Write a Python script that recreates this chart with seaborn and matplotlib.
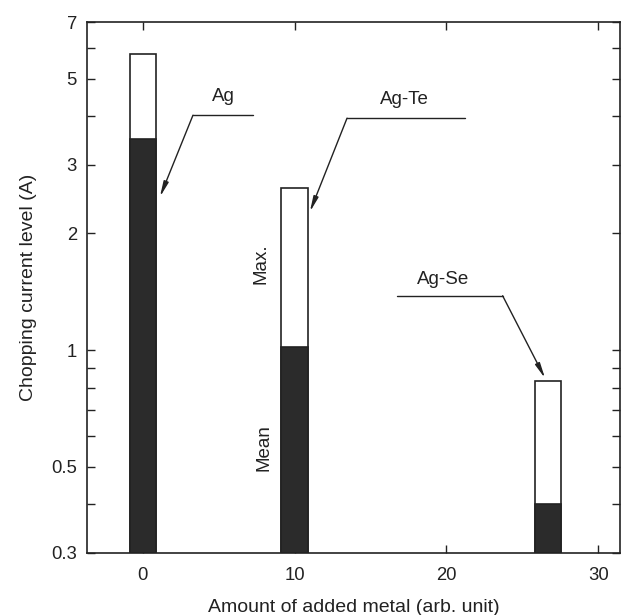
import numpy as np
import pandas as pd
import matplotlib
matplotlib.use("Agg")
import matplotlib.pyplot as plt
from matplotlib.ticker import NullFormatter
import seaborn as sns

# Chopping current per contact material
materials = ["Ag", "Ag-Te", "Ag-Se"]
added_metal = [0, 10, 26.7]          # arb. unit
max_current = [5.8, 2.62, 0.83]      # A
mean_current = [3.5, 1.02, 0.40]     # A

y_major = [0.3, 0.5, 1, 2, 3, 5, 7]
y_major_labels = ["0.3", "0.5", "1", "2", "3", "5", "7"]
y_minor = [0.4, 0.6, 0.7, 0.8, 0.9, 4, 6]
x_major = [0, 10, 20, 30]

sns.set_style("ticks")
plt.rcParams["font.family"] = ["Liberation Sans", "DejaVu Sans"]
plt.rcParams["text.color"] = "#222222"
plt.rcParams["axes.labelcolor"] = "#222222"

df = pd.DataFrame({
    "material": materials,
    "amount": added_metal,
    "max": max_current,
    "mean": mean_current,
})

fig, ax = plt.subplots(figsize=(6.24, 6.15), dpi=100)
fig.subplots_adjust(left=0.139, right=0.994, bottom=0.101, top=0.964)

ink = "#222222"
sns.barplot(data=df, x="amount", y="max", native_scale=True,
            width=0.175, color="white", edgecolor=ink, linewidth=1.2,
            saturation=1, errorbar=None, ax=ax)
sns.barplot(data=df, x="amount", y="mean", native_scale=True,
            width=0.175, color="#2b2b2b", edgecolor=ink, linewidth=1.2,
            saturation=1, errorbar=None, ax=ax)
ax.set_yscale("log", nonpositive="clip")

ax.set_xlim(-3.7, 31.45)
ax.set_ylim(0.3, 7)
ax.set_xticks(x_major)
ax.set_xticklabels([str(v) for v in x_major])
ax.set_yticks(y_major)
ax.set_yticklabels(y_major_labels)
ax.set_yticks(y_minor, minor=True)
ax.yaxis.set_minor_formatter(NullFormatter())
ax.xaxis.set_minor_locator(matplotlib.ticker.NullLocator())

ax.tick_params(axis="both", which="both", direction="in", length=6, width=1.0,
               color=ink, labelcolor=ink, labelsize=13.3,
               top=True, right=True)
ax.tick_params(axis="x", pad=10)
ax.tick_params(axis="y", pad=7)
for s in ax.spines.values():
    s.set_visible(True)
    s.set_linewidth(1.2)
    s.set_color(ink)

ax.set_xlabel("Amount of added metal (arb. unit)", fontsize=14, labelpad=11)
ax.set_ylabel("Chopping current level (A)", fontsize=14, labelpad=10)

# Leader lines with arrows pointing at each bar
line_kw = dict(color=ink, lw=1.0)
arrow_kw = dict(arrowstyle="-|>,head_length=0.9,head_width=0.15", color=ink, lw=1.0,
                shrinkA=0, shrinkB=0)

# Ag
ax.text(5.3, 4.5, "Ag", fontsize=13.5, ha="center", va="center")
ax.plot([3.3, 7.25], [4.03, 4.03], **line_kw)
ax.annotate("", xy=(1.12, 2.48), xytext=(3.3, 4.03), arrowprops=arrow_kw)

# Ag-Te
ax.text(17.2, 4.42, "Ag-Te", fontsize=13.5, ha="center", va="center")
ax.plot([13.45, 21.2], [3.96, 3.96], **line_kw)
ax.annotate("", xy=(11.0, 2.27), xytext=(13.45, 3.96), arrowprops=arrow_kw)

# Ag-Se
ax.text(19.8, 1.52, "Ag-Se", fontsize=13.5, ha="center", va="center")
ax.plot([16.74, 23.7], [1.38, 1.38], **line_kw)
ax.annotate("", xy=(26.5, 0.845), xytext=(23.7, 1.38), arrowprops=arrow_kw)

# Segment labels beside the middle bar
ax.text(7.75, 1.67, "Max.", fontsize=13.5, rotation=90, ha="center", va="center")
ax.text(7.95, 0.56, "Mean", fontsize=13.5, rotation=90, ha="center", va="center")

fig.savefig("out.png", dpi=100, facecolor="white")
